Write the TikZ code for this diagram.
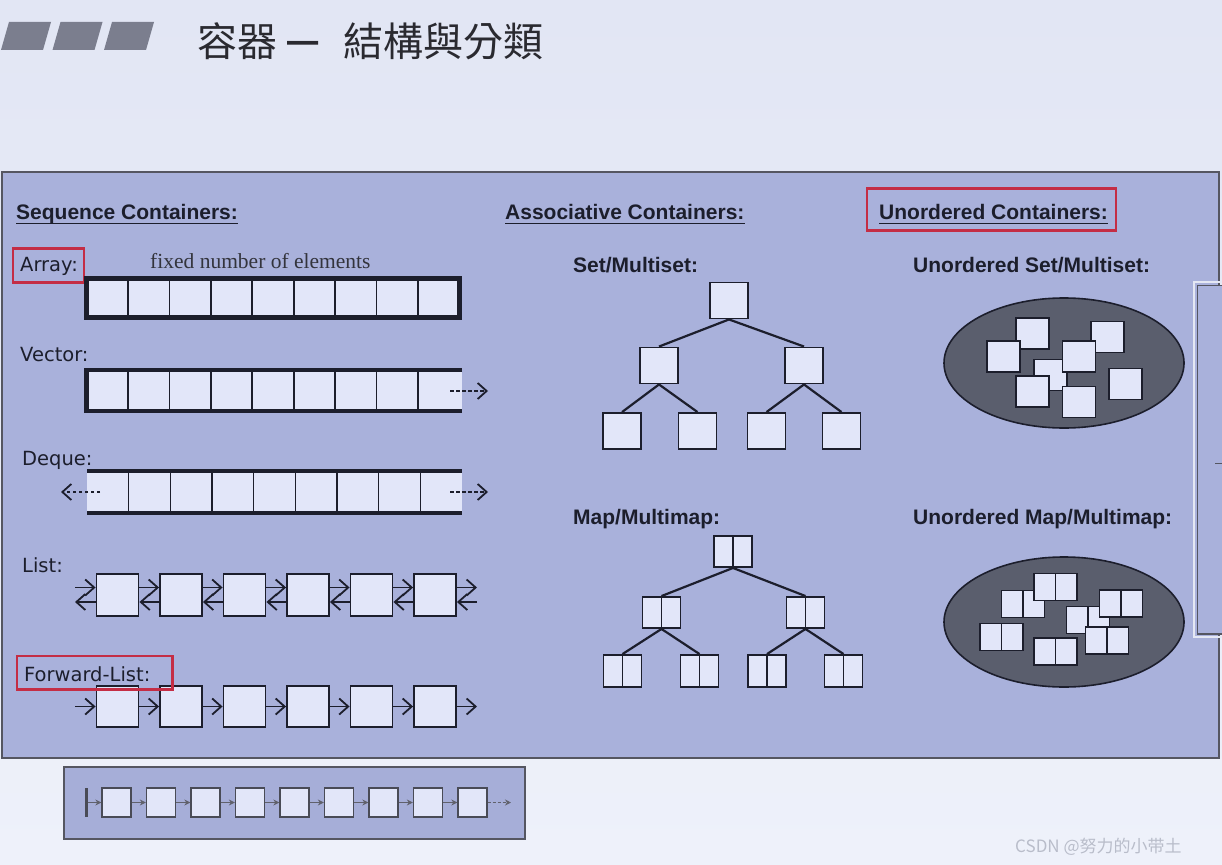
\documentclass[tikz,border=0pt]{standalone}
\usepackage{fontspec}
\setmainfont{Liberation Sans}
\newfontfamily\cjk{Noto Sans CJK TC}
\newfontfamily\cjksc{Noto Sans CJK SC}
\newfontfamily\dv{DejaVu Sans}
\newfontfamily\tms{Liberation Serif}
\usetikzlibrary{arrows.meta,shapes.geometric}
\definecolor{bgtop}{HTML}{E2E6F4}
\definecolor{bgbot}{HTML}{EEF1FA}
\definecolor{panelc}{HTML}{A9B1DB}
\definecolor{cellc}{HTML}{E2E6F9}
\definecolor{ink}{HTML}{1C1E2C}
\definecolor{ellc}{HTML}{5A5E6D}
\definecolor{redc}{HTML}{C42D45}
\definecolor{barc}{HTML}{7B7E8E}
\definecolor{titlec}{HTML}{2A2A30}
\definecolor{txtgray}{HTML}{33343C}
\definecolor{stripc}{HTML}{A6AED8}
\definecolor{wmc}{HTML}{B9BDCA}
\begin{document}
\begin{tikzpicture}[x=1pt,y=-1pt,
  cellbox/.style={draw=ink, line width=1.9pt, fill=cellc, inner sep=0pt, minimum width=42pt, minimum height=42pt},
  sqbox/.style={cellbox, minimum width=38pt, minimum height=36pt},
  pairbox/.style={cellbox, minimum width=38pt, minimum height=31pt,
    path picture={\draw[ink,line width=1.9pt] (path picture bounding box.north) -- (path picture bounding box.south);}},
  usq/.style={cellbox, line width=1.6pt, minimum width=33pt, minimum height=31pt},
  upair/.style={cellbox, line width=1.6pt, minimum width=43pt, minimum height=27pt,
    path picture={\draw[ink,line width=1.6pt] (path picture bounding box.north) -- (path picture bounding box.south);}},
  smallbox/.style={draw=ink!80, line width=1.3pt, fill=cellc, inner sep=0pt, minimum width=29pt, minimum height=29pt},
  tedge/.style={draw=ink, line width=2.2pt},
  arr/.style={draw=ink, line width=1.8pt, -{Straight Barb[length=9pt,width=16pt,line width=1.8pt]}},
  darr/.style={arr, dash pattern=on 3.5pt off 2.5pt},
  sarr/.style={draw=ink!70, line width=1.1pt, -{Stealth[length=6pt,width=6pt]}},
  sdarr/.style={sarr, dash pattern=on 3pt off 2pt},
  head/.style={font=\bfseries\fontsize{21}{25}\selectfont, text=ink, inner sep=0pt, anchor=base west},
  lbl/.style={font=\dv\fontsize{19.5}{23}\selectfont, text=ink, inner sep=0pt, anchor=base west},
  redbox/.style={draw=redc, line width=2.5pt},
  uline/.style={draw=ink, line width=1.8pt}
]
\useasboundingbox (0,0) rectangle (1222,864);
\shade[top color=bgtop, bottom color=bgbot] (0,0) rectangle (1222,864);

% title bar
\foreach \s in {0,51.5,103}{
  \fill[barc] ({1+\s},50) -- ({9+\s},22) -- ({51+\s},22) -- ({43+\s},50) -- cycle;
}
\node[font=\cjk\fontsize{40}{48}\selectfont, text=titlec, anchor=base west, inner sep=0pt] (title) at (197,57)
  {容器\hspace{10pt}{\rmfamily\fontsize{56}{56}\selectfont\raisebox{-1pt}{–}}\hspace{25pt}結構與分類};

% main panel
\draw[ink!75, line width=1.5pt, fill=panelc] (2,172) rectangle (1219,758);
% partly hidden box at right edge
\draw[white!70!panelc, line width=2.5pt] (1194,282) rectangle (1240,637);
\draw[ink!75, line width=1.2pt, fill=panelc] (1197.5,285.5) rectangle (1240,634);
\draw[ink!75, line width=1pt] (1215,463) -- (1222,463);

% headings
\node[head] (seq) at (16,219) {Sequence Containers:};
\draw[uline] ([yshift=-4.5pt]seq.base west) -- ([yshift=-4.5pt]seq.base east);
\node[head] (asc) at (505,219) {Associative Containers:};
\draw[uline] ([yshift=-4.5pt]asc.base west) -- ([yshift=-4.5pt]asc.base east);
\node[head] (uno) at (879,219) {Unordered Containers:};
\draw[uline] ([yshift=-4.5pt]uno.base west) -- ([yshift=-4.5pt]uno.base east);
\draw[redbox] ([xshift=-12pt,yshift=15pt]uno.north west) rectangle ([xshift=8pt,yshift=-11pt]uno.south east);

% Array
\node[lbl] (arrl) at (20,271) {Array:};
\draw[redbox] ([xshift=-7pt,yshift=8pt]arrl.north west) rectangle ([xshift=6pt,yshift=-7pt]arrl.south east);
\node[font=\tms\fontsize{21.5}{25}\selectfont, text=txtgray, anchor=base west, inner sep=0pt] (fixed) at (150,268) {fixed number of elements};
\fill[cellc] (86.5,278.5) rectangle (459.5,317.5);
\foreach \x in {1,...,8} \draw[ink, line width=1.6pt] ({86.5+\x*41.44},278.5) -- ({86.5+\x*41.44},317.5);
\draw[ink, line width=5pt] (86.5,278.5) rectangle (459.5,317.5);

% Vector
\node[lbl] (vecl) at (20,361) {Vector:};
\fill[cellc] (86.5,370) rectangle (462,411);
\foreach \x in {1,...,8} \draw[ink, line width=1.6pt] ({86.5+\x*41.44},370) -- ({86.5+\x*41.44},411);
\draw[ink, line width=4.5pt, line join=miter] (462,370) -- (86.5,370) -- (86.5,411) -- (462,411);
\coordinate (vs) at (450,391);
\coordinate (ve) at (488,391);
\draw[darr] (vs) -- (ve);

% Deque
\node[lbl] (deql) at (22,465) {Deque:};
\fill[cellc] (87,471) rectangle (462,513);
\foreach \x in {1,...,8} \draw[ink, line width=1.6pt] ({87+\x*41.67},471) -- ({87+\x*41.67},513);
\draw[ink, line width=4.5pt] (87,471) -- (462,471);
\draw[ink, line width=4.5pt] (87,513) -- (462,513);
\coordinate (dls) at (100,492);
\coordinate (dle) at (61,492);
\coordinate (drs) at (450,492);
\coordinate (dre) at (488,492);
\draw[darr] (dls) -- (dle);
\draw[darr] (drs) -- (dre);

% List
\node[lbl] (listl) at (22,572) {List:};
\foreach \i in {1,...,6} \node[cellbox] (L\i) at ({117.5+63.5*(\i-1)},595) {};
\coordinate (L0) at (75,595);
\coordinate (L7) at (477,595);
\draw[arr] ([yshift=7.5pt]L0) -- ([yshift=7.5pt]L1.west);
\draw[arr] ([yshift=-7pt]L1.west) -- ([yshift=-7pt]L0);
\foreach \i/\j in {1/2,2/3,3/4,4/5,5/6}{
  \draw[arr] ([yshift=7.5pt]L\i.east) -- ([yshift=7.5pt]L\j.west);
  \draw[arr] ([yshift=-7pt]L\j.west) -- ([yshift=-7pt]L\i.east);
}
\draw[arr] ([yshift=7.5pt]L6.east) -- ([yshift=7.5pt]L7);
\draw[arr] ([yshift=-7pt]L7) -- ([yshift=-7pt]L6.east);

% Forward list
\foreach \i in {1,...,6} \node[cellbox, minimum height=41pt] (F\i) at ({117.5+63.5*(\i-1)},706.5) {};
\coordinate (F0) at (75,706.5);
\coordinate (F7) at (477,706.5);
\draw[arr] (F0) -- (F1.west);
\foreach \i/\j in {1/2,2/3,3/4,4/5,5/6} \draw[arr] (F\i.east) -- (F\j.west);
\draw[arr] (F6.east) -- (F7);
\node[lbl] (fwdl) at (24,681) {Forward-List:};
\draw[redbox] ([xshift=-7pt,yshift=10pt]fwdl.north west) rectangle ([xshift=22pt,yshift=-8pt]fwdl.south east);

% Set / Multiset tree
\node[head] (setl) at (573,272) {Set/Multiset:};
\node[sqbox] (sr) at (729,300.5) {};
\node[sqbox] (sa) at (659,365.5) {};
\node[sqbox] (sb) at (804,365.5) {};
\node[sqbox] (sa1) at (622,431) {};
\node[sqbox] (sa2) at (697.5,431) {};
\node[sqbox] (sb1) at (766.5,431) {};
\node[sqbox] (sb2) at (841.5,431) {};
\draw[tedge] (sr.south) -- (sa.north);
\draw[tedge] (sr.south) -- (sb.north);
\draw[tedge] (sa.south) -- (sa1.north);
\draw[tedge] (sa.south) -- (sa2.north);
\draw[tedge] (sb.south) -- (sb1.north);
\draw[tedge] (sb.south) -- (sb2.north);

% Map / Multimap tree
\node[head] (mapl) at (573,524) {Map/Multimap:};
\node[pairbox] (mr) at (733,551.5) {};
\node[pairbox] (ma) at (661.5,612.5) {};
\node[pairbox] (mb) at (805.5,612.5) {};
\node[pairbox, minimum height=32pt] (ma1) at (622.5,671) {};
\node[pairbox, minimum height=32pt] (ma2) at (699.5,671) {};
\node[pairbox, minimum height=32pt] (mb1) at (767,671) {};
\node[pairbox, minimum height=32pt] (mb2) at (843.5,671) {};
\draw[tedge] (mr.south) -- (ma.north);
\draw[tedge] (mr.south) -- (mb.north);
\draw[tedge] (ma.south) -- (ma1.north);
\draw[tedge] (ma.south) -- (ma2.north);
\draw[tedge] (mb.south) -- (mb1.north);
\draw[tedge] (mb.south) -- (mb2.north);

% Unordered set
\node[head] (usetl) at (913,272) {Unordered Set/Multiset:};
\node[ellipse, draw=ink, line width=1.6pt, fill=ellc, minimum width=240pt, minimum height=130pt, inner sep=0pt] (E1) at (1064,363) {};
\node[usq] (ua) at (1032.5,333.5) {};
\node[usq] (ub) at (1003.5,356.5) {};
\node[usq] (uc) at (1107.5,337) {};
\node[usq] (um) at (1050.5,375) {};
\node[usq] (ud) at (1079,356.5) {};
\node[usq] (ue) at (1032.5,391.5) {};
\node[usq] (uf) at (1079,402) {};
\node[usq] (ug) at (1125.5,384) {};

% Unordered map
\node[head] (umapl) at (913,524) {Unordered Map/Multimap:};
\node[ellipse, draw=ink, line width=1.6pt, fill=ellc, minimum width=240pt, minimum height=130pt, inner sep=0pt] (E2) at (1064,622) {};
\node[upair] (p1) at (1023,604) {};
\node[upair] (p2) at (1055.5,587) {};
\node[upair] (p3) at (1088,620) {};
\node[upair] (p4) at (1121,603.5) {};
\node[upair] (p5) at (1107,640.5) {};
\node[upair] (p6) at (1001.5,637) {};
\node[upair] (p7) at (1055.5,651.5) {};

% bottom strip
\draw[ink!75, line width=1.2pt, fill=stripc] (64,767) rectangle (525,839);
\node[fill=ink!80, minimum width=3.5pt, minimum height=29pt, inner sep=0pt] (bar) at (86.5,802.5) {};
\foreach \i in {1,...,9} \node[smallbox] (B\i) at ({116.5+44.5*(\i-1)},802.5) {};
\draw[sarr] (bar.east) -- (B1.west);
\foreach \i/\j in {1/2,2/3,3/4,4/5,5/6,6/7,7/8,8/9} \draw[sarr] (B\i.east) -- (B\j.west);
\coordinate (Bend) at (511,802.5);
\draw[sdarr] (B9.east) -- (Bend);

% watermark
\node[font=\cjksc\fontsize{17}{20}\selectfont, text=wmc, anchor=base west, inner sep=0pt] (wm) at (1015,852) {CSDN @努力的小带土};
\end{tikzpicture}
\end{document}
